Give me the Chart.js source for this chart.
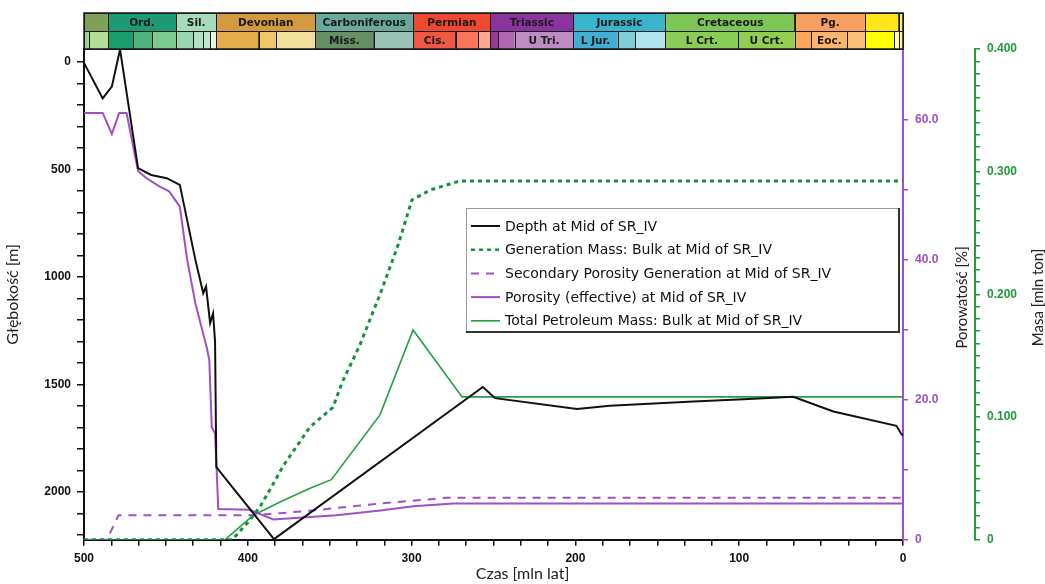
<!DOCTYPE html>
<html>
<head>
<meta charset="utf-8">
<script src="https://cdn.jsdelivr.net/npm/chart.js@4.4.1/dist/chart.umd.min.js"></script>
<style>
  html, body { margin: 0; padding: 0; background: #ffffff; }
  #wrap { width: 1045px; height: 584px; position: relative; }
</style>
</head>
<body>
<div id="wrap"><canvas id="burial"></canvas></div>
<script>
// Depth at Mid of SR_IV (age in Ma, depth in m)
const depthAge = [500, 488.6, 483, 478, 467, 459, 449.5, 441.5, 432, 427.2, 425.5, 423, 421.2, 420, 419.2, 384, 256.5, 249, 199, 179, 128, 97.5, 67, 42.5, 4, 1.5, 0];
const depthM   = [5, 170, 115, -58, 494, 526, 541, 572, 921, 1076, 1045, 1215, 1170, 1300, 1885, 2220, 1512, 1564, 1615, 1600, 1580, 1569, 1558, 1626, 1693, 1725, 1740];

// Generation Mass: Bulk (mln ton)
const genAge = [500, 409.6, 400, 392.5, 386.4, 378.5, 362, 348, 342.5, 331.5, 319.3, 308.3, 299.8, 288.8, 270.5, 0];
const genVal = [0, 0, 0.014, 0.027, 0.041, 0.060, 0.092, 0.108, 0.128, 0.159, 0.200, 0.240, 0.277, 0.285, 0.2925, 0.2925];

// Secondary Porosity Generation (%)
const secAge = [500, 486, 479, 398, 380, 360, 319, 279, 0];
const secVal = [0, 0, 3.5, 3.5, 3.8, 4.2, 5.2, 6.0, 6.0];

// Porosity (effective) (%)
const porAge = [500, 488.6, 483, 478.5, 474, 467, 462, 454, 448, 441.5, 437, 432, 425, 423.5, 422, 420, 418, 399, 384.4, 346, 319, 299, 274.5, 0];
const porVal = [61, 61, 58, 61, 61, 52.7, 51.7, 50.5, 49.8, 47.6, 40, 33.8, 27.4, 25.7, 16.1, 15.2, 4.4, 4.3, 2.9, 3.5, 4.2, 4.8, 5.2, 5.2];

// Total Petroleum Mass: Bulk (mln ton)
const totAge = [500, 414, 396.6, 380, 362, 349, 319.3, 299.1, 269.2, 0];
const totVal = [0, 0, 0.020, 0.031, 0.042, 0.049, 0.1018, 0.171, 0.1165, 0.1165];

// tick labels
const timeTicks  = [500, 400, 300, 200, 100, 0];
const depthTicks = [0, 500, 1000, 1500, 2000];
const porTicks   = [0, 20, 40, 60];
const massTicks  = [0, 0.1, 0.2, 0.3, 0.4];

// geologic time scale - periods (boundaries in Ma)
const periodBounds = [500, 485.4, 443.8, 419.2, 358.9, 298.9, 251.9, 201.3, 145, 66, 23, 2.58, 0];
const periodLabels = ['', 'Ord.', 'Sil.', 'Devonian', 'Carboniferous', 'Permian', 'Triassic', 'Jurassic', 'Cretaceous', 'Pg.', '', ''];
const periodColors = ['#7fa056', '#1b9a74', '#a6dcb9', '#d39a3f', '#6aaa9c', '#ef4a2f', '#8a34a0', '#38b4cc', '#7ec655', '#f9a060', '#ffe61a', '#f8f27a'];

// epochs
const epochBounds = [500, 497, 485.4, 470, 458.4, 443.8, 433.4, 427.4, 423, 419.2, 393.3, 382.7, 358.9, 323.2, 298.9, 273, 259.5, 251.9, 247.2, 237, 201.3, 174.1, 163.5, 145, 100.5, 66, 56, 33.9, 23, 5.33, 2.58, 0.0117, 0];
const epochLabels = ['', '', '', '', '', '', '', '', '', '', '', '', 'Miss.', '', 'Cis.', '', '', '', '', 'U Tri.', 'L Jur.', '', '', 'L Crt.', 'U Crt.', '', 'Eoc.', '', '', '', '', ''];
const epochColors = ['#a6cf86', '#b3e095', '#1a9d6f', '#4db47e', '#7fca93', '#99d7b3', '#b3e1c2', '#bfe6cf', '#e6f5e1',
    '#e5ac4d', '#f1c868', '#f1e19d', '#678f66', '#99c2b5', '#ef5845', '#fb745c', '#fba794',
    '#983999', '#b168b1', '#bd8cc3', '#42aed0', '#80cfd8', '#b3e3ee', '#8ccd57', '#92cf50',
    '#fda75f', '#fdb46c', '#fdc07a', '#ffff00', '#ffff99', '#fff2ae', '#fef2e0'];

const PURPLE = '#a24fc6';
const GREEN = '#1f9a3e';
const tickFont = { family: 'Liberation Sans', size: 12, weight: 'bold' };

function pairs(xs, ys) {
    return xs.map((x, i) => ({ x: x, y: ys[i] }));
}

function isMajor(value, list) {
    return list.some(t => Math.abs(t - value) < 1e-6);
}

// Geologic time scale bar above the plot
const timeScalePlugin = {
    id: 'timeScale',
    afterDraw(chart) {
        const ctx = chart.ctx;
        const xs = chart.scales.x;
        const rows = [
            { b: periodBounds, l: periodLabels, c: periodColors, top: 13, h: 18 },
            { b: epochBounds, l: epochLabels, c: epochColors, top: 31, h: 18 }
        ];
        ctx.save();
        ctx.font = 'bold 10.5px "DejaVu Sans"';
        ctx.textAlign = 'center';
        ctx.textBaseline = 'middle';
        rows.forEach(row => {
            for (let i = 0; i < row.b.length - 1; i++) {
                const x0 = xs.getPixelForValue(row.b[i]);
                const x1 = xs.getPixelForValue(row.b[i + 1]);
                ctx.fillStyle = row.c[i];
                ctx.fillRect(x0, row.top, x1 - x0, row.h);
                ctx.strokeStyle = '#1a1a1a';
                ctx.lineWidth = 1;
                ctx.strokeRect(Math.round(x0) + 0.5, row.top + 0.5, Math.round(x1 - x0), row.h);
                if (row.l[i]) {
                    ctx.fillStyle = '#1a1a1a';
                    ctx.fillText(row.l[i], (x0 + x1) / 2, row.top + row.h / 2 + 1);
                }
            }
        });
        const xl = xs.getPixelForValue(500), xr = xs.getPixelForValue(0);
        ctx.lineWidth = 1.5;
        ctx.strokeRect(xl, 13, xr - xl, 36);
        ctx.restore();
    }
};

// Titles of the two right axes (reading bottom to top)
const rightTitlesPlugin = {
    id: 'rightTitles',
    afterDraw(chart) {
        const ctx = chart.ctx;
        const a = chart.chartArea;
        const cy = (a.top + a.bottom) / 2 + 3;
        const items = [
            { text: 'Porowatość [%]', x: chart.scales.yPor.right - 13 },
            { text: 'Masa [mln ton]', x: chart.scales.yMass.right - 7 }
        ];
        ctx.save();
        ctx.font = '15px Lato';
        ctx.fillStyle = '#222';
        ctx.textAlign = 'center';
        ctx.textBaseline = 'middle';
        items.forEach(it => {
            ctx.save();
            ctx.translate(it.x, cy);
            ctx.rotate(-Math.PI / 2);
            ctx.fillText(it.text, 0, 0);
            ctx.restore();
        });
        ctx.restore();
    }
};

// Boxed legend inside the plot
const boxLegendPlugin = {
    id: 'boxLegend',
    afterDraw(chart) {
        const ctx = chart.ctx;
        const left = 466, top = 208, w = 433, h = 124;
        ctx.save();
        ctx.fillStyle = '#ffffff';
        ctx.fillRect(left, top, w, h);
        ctx.strokeStyle = '#9a9a9a';
        ctx.lineWidth = 1;
        ctx.strokeRect(left + 0.5, top + 0.5, w, h);
        ctx.strokeStyle = '#333';
        ctx.lineWidth = 2;
        ctx.beginPath();
        ctx.moveTo(left + w, top);
        ctx.lineTo(left + w, top + h);
        ctx.lineTo(left, top + h);
        ctx.stroke();
        ctx.font = '14px "DejaVu Sans"';
        ctx.textBaseline = 'middle';
        chart.data.datasets.forEach((ds, i) => {
            const y = top + 18 + i * 23.7;
            ctx.strokeStyle = ds.borderColor;
            ctx.lineWidth = Math.min(ds.borderWidth, 2.5);
            ctx.setLineDash(ds.borderDash || []);
            ctx.beginPath();
            ctx.moveTo(left + 5, y);
            ctx.lineTo(left + 34, y);
            ctx.stroke();
            ctx.setLineDash([]);
            ctx.fillStyle = '#111';
            ctx.fillText(ds.label, left + 39, y + 1);
        });
        ctx.restore();
    }
};

const ctx = document.getElementById('burial').getContext('2d');

new Chart(ctx, {
    type: 'line',
    data: {
        datasets: [
            {
                label: 'Depth at Mid of SR_IV',
                data: pairs(depthAge, depthM),
                yAxisID: 'y',
                borderColor: '#111111',
                borderWidth: 2
            },
            {
                label: 'Generation Mass: Bulk at Mid of SR_IV',
                data: pairs(genAge, genVal),
                yAxisID: 'yMass',
                borderColor: '#16923a',
                borderWidth: 3,
                borderDash: [4, 4]
            },
            {
                label: 'Secondary Porosity Generation at Mid of SR_IV',
                data: pairs(secAge, secVal),
                yAxisID: 'yPor',
                borderColor: PURPLE,
                borderWidth: 2,
                borderDash: [8, 7]
            },
            {
                label: 'Porosity (effective) at Mid of SR_IV',
                data: pairs(porAge, porVal),
                yAxisID: 'yPor',
                borderColor: PURPLE,
                borderWidth: 2
            },
            {
                label: 'Total Petroleum Mass: Bulk at Mid of SR_IV',
                data: pairs(totAge, totVal),
                yAxisID: 'yMass',
                borderColor: '#23a043',
                borderWidth: 1.6
            }
        ]
    },
    options: {
        responsive: true,
        maintainAspectRatio: false,
        animation: false,
        elements: {
            point: { radius: 0 },
            line: { tension: 0, fill: false }
        },
        layout: { padding: { top: 49, left: 0, right: 0, bottom: 0 } },
        plugins: {
            legend: { display: false },
            tooltip: { enabled: false },
            title: {
                display: true,
                position: 'bottom',
                text: 'Czas [mln lat]',
                color: '#222',
                font: { family: 'Lato', size: 16, weight: 'normal' },
                padding: { top: 0, bottom: 1 }
            }
        },
        scales: {
            x: {
                type: 'linear',
                position: 'bottom',
                reverse: true,
                min: 0,
                max: 500,
                afterBuildTicks: s => {
                    const t = [];
                    for (let i = 0; i <= 30; i++) t.push({ value: i * 100 / 6 });
                    s.ticks = t;
                },
                afterFit: s => { s.height = 24; },
                ticks: {
                    autoSkip: false,
                    maxRotation: 0,
                    color: '#111',
                    font: tickFont,
                    padding: 6,
                    callback: v => isMajor(v, timeTicks) ? String(Math.round(v)) : ''
                },
                grid: { drawOnChartArea: false, tickLength: 6, color: '#111', lineWidth: 1.5 },
                border: { color: '#111', width: 2 }
            },
            y: {
                type: 'linear',
                position: 'left',
                reverse: true,
                min: -60,
                max: 2223,
                afterBuildTicks: s => {
                    const t = [];
                    for (let v = 0; v <= 2200; v += 100) t.push({ value: v });
                    s.ticks = t;
                },
                afterFit: s => { s.width = 84; },
                ticks: {
                    autoSkip: false,
                    color: '#111',
                    font: tickFont,
                    padding: 6,
                    callback: v => isMajor(v, depthTicks) ? String(v) : ''
                },
                grid: { drawOnChartArea: false, tickLength: 7, color: '#111', lineWidth: 1.5 },
                border: { color: '#111', width: 2 },
                title: {
                    display: true,
                    text: 'Głębokość [m]',
                    color: '#222',
                    font: { family: 'Lato', size: 16 },
                    padding: { top: 3, bottom: 0 }
                }
            },
            yPor: {
                type: 'linear',
                position: 'right',
                min: 0,
                max: 70.14,
                afterBuildTicks: s => {
                    const t = [];
                    for (let v = 0; v <= 60; v += 10) t.push({ value: v });
                    s.ticks = t;
                },
                afterFit: s => { s.width = 72; },
                ticks: {
                    autoSkip: false,
                    color: PURPLE,
                    font: tickFont,
                    padding: 7,
                    callback: v => isMajor(v, porTicks) ? (v === 0 ? '0' : v.toFixed(1)) : ''
                },
                grid: { drawOnChartArea: false, tickLength: 5, color: PURPLE, lineWidth: 1.5 },
                border: { color: PURPLE, width: 2 }
            },
            yMass: {
                type: 'linear',
                position: 'right',
                min: 0,
                max: 0.4,
                afterBuildTicks: s => {
                    const t = [];
                    for (let i = 0; i <= 40; i++) t.push({ value: i / 100 });
                    s.ticks = t;
                },
                afterFit: s => { s.width = 70; },
                ticks: {
                    autoSkip: false,
                    color: GREEN,
                    font: tickFont,
                    padding: 7,
                    callback: v => isMajor(v, massTicks) ? (v === 0 ? '0' : v.toFixed(3)) : ''
                },
                grid: { drawOnChartArea: false, tickLength: 5, color: GREEN, lineWidth: 1.5 },
                border: { color: GREEN, width: 2 }
            }
        }
    },
    plugins: [timeScalePlugin, rightTitlesPlugin, boxLegendPlugin]
});
</script>
</body>
</html>
